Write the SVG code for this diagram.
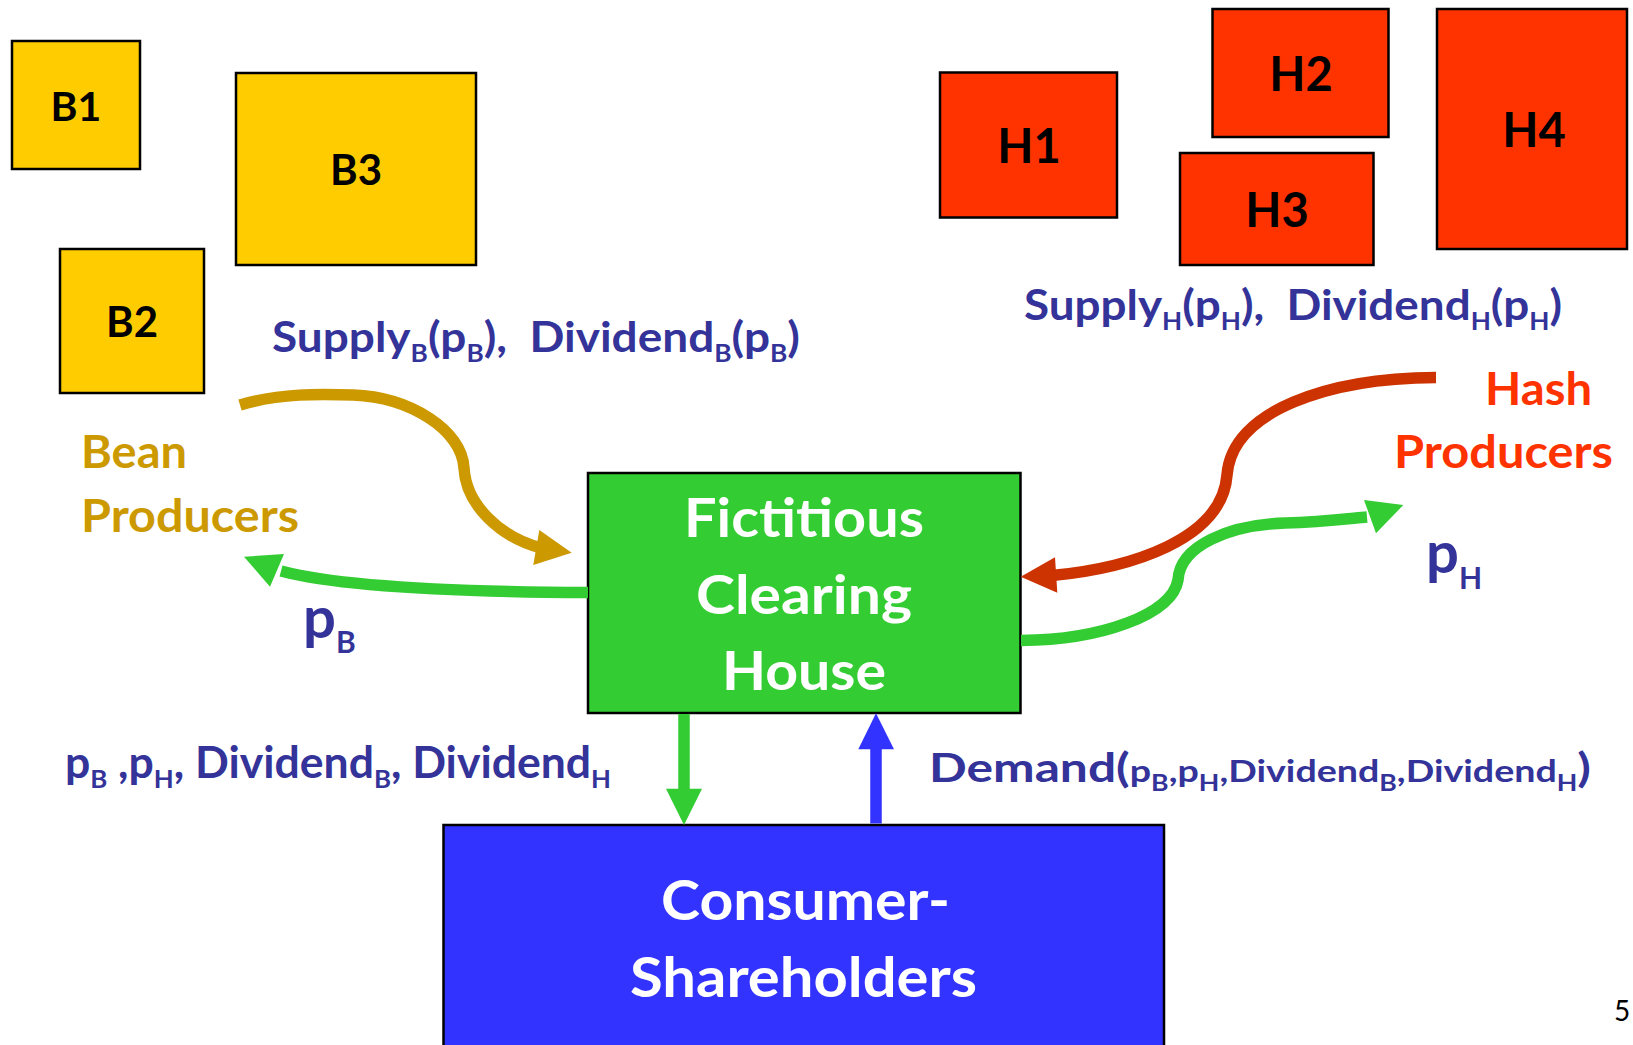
<svg xmlns="http://www.w3.org/2000/svg" width="1633" height="1045" viewBox="0 0 1633 1045">
<style>
text{font-family:Lato,"Open Sans","Liberation Sans",sans-serif;font-weight:bold}
.box{stroke:#000;stroke-width:2.5}
.bb{fill:#FFCC00}
.hb{fill:#FF3300}
.blk{fill:#000;text-anchor:middle}
.nv{fill:#333399}
.wt{fill:#fff;text-anchor:middle}
.conn{fill:none;stroke-width:11.5;stroke-linecap:butt}
.g{stroke:#33CC33}
.gf{fill:#33CC33}
</style>
<rect width="1633" height="1045" fill="#fff"/>

<g id="B1"><rect class="box bb" x="12" y="41" width="128" height="128"/><text class="blk" x="76" y="121" font-size="41">B1</text></g>
<g id="B3"><rect class="box bb" x="236" y="73" width="240" height="192"/><text class="blk" x="356" y="185" font-size="42">B3</text></g>
<g id="B2"><rect class="box bb" x="60" y="249" width="144" height="144"/><text class="blk" x="132" y="337" font-size="42">B2</text></g>

<g id="H1"><rect class="box hb" x="940" y="72.5" width="177" height="145"/><text class="blk" x="1029" y="163" font-size="47">H1</text></g>
<g id="H2"><rect class="box hb" x="1212.5" y="9" width="176" height="128"/><text class="blk" x="1301" y="91" font-size="47">H2</text></g>
<g id="H3"><rect class="box hb" x="1180" y="153" width="193.5" height="112"/><text class="blk" x="1277" y="227" font-size="47">H3</text></g>
<g id="H4"><rect class="box hb" x="1437" y="9" width="190" height="240"/><text class="blk" x="1534" y="147" font-size="47">H4</text></g>

<g id="supplyB-label"><text class="nv" x="272" y="352" font-size="42" textLength="528" lengthAdjust="spacingAndGlyphs">Supply<tspan font-size="24" dy="10">B</tspan><tspan dy="-10">(p</tspan><tspan font-size="24" dy="10">B</tspan><tspan dy="-10">),&#160; Dividend</tspan><tspan font-size="24" dy="10">B</tspan><tspan dy="-10">(p</tspan><tspan font-size="24" dy="10">B</tspan><tspan dy="-10">)</tspan></text></g>
<g id="supplyH-label"><text class="nv" x="1024" y="320" font-size="42" textLength="538" lengthAdjust="spacingAndGlyphs">Supply<tspan font-size="24" dy="10">H</tspan><tspan dy="-10">(p</tspan><tspan font-size="24" dy="10">H</tspan><tspan dy="-10">),&#160; Dividend</tspan><tspan font-size="24" dy="10">H</tspan><tspan dy="-10">(p</tspan><tspan font-size="24" dy="10">H</tspan><tspan dy="-10">)</tspan></text></g>

<g id="bean-producers" fill="#CC9900"><text x="81" y="468" font-size="46" textLength="106" lengthAdjust="spacingAndGlyphs">Bean</text><text x="81" y="532" font-size="46" textLength="218" lengthAdjust="spacingAndGlyphs">Producers</text></g>
<g id="hash-producers" fill="#FF3300"><text x="1485" y="405" font-size="46" textLength="107" lengthAdjust="spacingAndGlyphs">Hash</text><text x="1394" y="468" font-size="46" textLength="219" lengthAdjust="spacingAndGlyphs">Producers</text></g>

<g id="pB-label"><text class="nv" x="303" y="638" font-size="58">p<tspan font-size="30" dy="15">B</tspan></text></g>
<g id="pH-label"><text class="nv" x="1426" y="573" font-size="58">p<tspan font-size="30" dy="16">H</tspan></text></g>

<g id="clearing-house"><rect class="box" fill="#33CC33" x="588" y="473" width="432.5" height="240"/>
<text class="wt" x="804" y="537" font-size="54" textLength="240" lengthAdjust="spacingAndGlyphs">Fictitious</text>
<text class="wt" x="804" y="614" font-size="54" textLength="216" lengthAdjust="spacingAndGlyphs">Clearing</text>
<text class="wt" x="804" y="690" font-size="54" textLength="164" lengthAdjust="spacingAndGlyphs">House</text></g>

<g id="consumer-shareholders"><rect class="box" fill="#3333FF" x="443.5" y="825" width="720.5" height="230"/>
<text class="wt" x="805.5" y="920" font-size="56" textLength="289" lengthAdjust="spacingAndGlyphs">Consumer-</text>
<text class="wt" x="803.5" y="997" font-size="56" textLength="347" lengthAdjust="spacingAndGlyphs">Shareholders</text></g>

<g id="down-label"><text class="nv" x="65" y="778" font-size="43" textLength="546" lengthAdjust="spacingAndGlyphs">p<tspan font-size="25" dy="10">B</tspan><tspan dy="-10"> ,p</tspan><tspan font-size="25" dy="10">H</tspan><tspan dy="-10">, Dividend</tspan><tspan font-size="25" dy="10">B</tspan><tspan dy="-10">, Dividend</tspan><tspan font-size="25" dy="10">H</tspan></text></g>
<g id="up-label"><text class="nv" x="929" y="782" font-size="41" textLength="662" lengthAdjust="spacingAndGlyphs">Demand(<tspan font-size="31">p</tspan><tspan font-size="22" dy="9">B</tspan><tspan font-size="31" dy="-9">,p</tspan><tspan font-size="22" dy="9">H</tspan><tspan font-size="31" dy="-9">,Dividend</tspan><tspan font-size="22" dy="9">B</tspan><tspan font-size="31" dy="-9">,Dividend</tspan><tspan font-size="22" dy="9">H</tspan><tspan dy="-9">)</tspan></text></g>

<g id="connectors">
<path class="conn" stroke="#CC9900" d="M 240 405 C 280 393, 320 394, 353 395 C 410 397, 462 430, 464 468 C 466 505, 500 537, 541 548"/>
<polygon fill="#CC9900" points="571.7,552.7 539.3,530 533.3,565"/>
<path class="conn g" d="M 588 592.5 C 470 592, 345 588, 281 571"/>
<polygon class="gf" points="244,556.7 284,554 270,586.7"/>
<path class="conn" stroke="#CC3300" d="M 1436 377.5 C 1330 378, 1232 410, 1227 475 C 1222 540, 1130 568, 1052 575.5"/>
<polygon fill="#CC3300" points="1020.7,576.7 1055,557.3 1057.3,592.7"/>
<path class="conn g" d="M 1021 640.5 C 1100 640, 1172 615, 1178 580 C 1180 545, 1230 525, 1285 523 C 1320 522, 1345 519, 1367 517"/>
<polygon class="gf" points="1403.3,505 1364,500 1376,533.3"/>
<path class="conn g" d="M 684 714 L 684 791"/>
<polygon class="gf" points="684,825 666,788.7 702,788.7"/>
<path class="conn" stroke="#3333FF" d="M 876 823.5 L 876 747"/>
<polygon fill="#3333FF" points="876,713.3 858.3,749.3 894,749.3"/>
</g>

<text x="1614" y="1021" font-size="28" style="font-weight:normal" fill="#000">5</text>
</svg>
